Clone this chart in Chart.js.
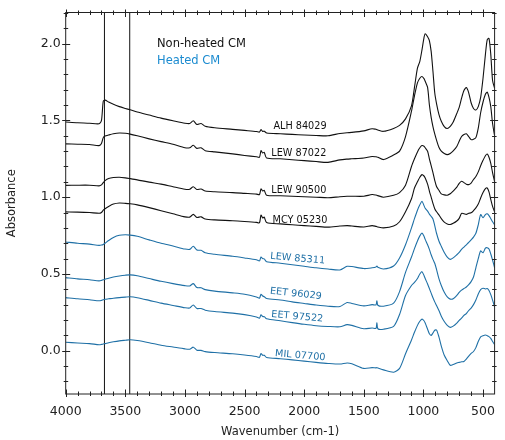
<!DOCTYPE html>
<html>
<head>
<meta charset="utf-8">
<script src="https://cdn.jsdelivr.net/npm/chart.js@4.4.0/dist/chart.umd.min.js"></script>
<style>
  html, body { margin: 0; padding: 0; background: #fff; }
  canvas { display: block; }
</style>
</head>
<body>
<canvas id="chart" width="505" height="440"></canvas>
<script>
// wavenumber grid (cm-1), shared by all spectra
const wavenumbers = [
  4000, 3900, 3800, 3720, 3700, 3685, 3670, 3640, 3600, 3550,
  3500, 3460, 3400, 3300, 3200, 3100, 3000, 2960, 2930, 2900,
  2865, 2830, 2750, 2600, 2500, 2400, 2375, 2362, 2348, 2335,
  2315, 2200, 2100, 2000, 1900, 1800, 1700, 1640, 1600, 1500,
  1430, 1398, 1390, 1382, 1335,
  1250, 1200, 1150, 1100, 1075, 1050, 1030, 1012, 995, 985,
  965, 950, 935, 920, 905, 890, 870, 850, 825, 800,
  775, 750, 720, 700, 680, 660, 640, 620, 600, 580,
  560, 540, 520, 500, 480, 465, 450, 435, 420, 403
];

// non-heated CM
const alh84029 = [
  1.490, 1.485, 1.482, 1.478, 1.500, 1.625, 1.632, 1.620, 1.605, 1.590,
  1.578, 1.569, 1.555, 1.535, 1.515, 1.498, 1.482, 1.480, 1.498, 1.474,
  1.480, 1.462, 1.452, 1.442, 1.435, 1.428, 1.424, 1.440, 1.428, 1.430,
  1.418, 1.413, 1.409, 1.405, 1.402, 1.400, 1.415, 1.420, 1.422, 1.432,
  1.446, 1.442, 1.440, 1.438, 1.429,
  1.448, 1.468, 1.510, 1.595, 1.715, 1.840, 1.885, 1.960, 2.040, 2.065,
  2.045, 2.020, 1.950, 1.820, 1.680, 1.610, 1.540, 1.495, 1.460, 1.447,
  1.462, 1.490, 1.545, 1.585, 1.645, 1.695, 1.714, 1.680, 1.615, 1.578,
  1.568, 1.590, 1.650, 1.775, 1.930, 2.025, 2.035, 1.930, 1.760, 1.710
];
const lew87022 = [
  1.347, 1.345, 1.343, 1.336, 1.350, 1.388, 1.398, 1.405, 1.413, 1.418,
  1.416, 1.411, 1.400, 1.380, 1.362, 1.345, 1.322, 1.322, 1.338, 1.318,
  1.322, 1.303, 1.295, 1.282, 1.272, 1.263, 1.260, 1.303, 1.288, 1.292,
  1.255, 1.250, 1.244, 1.238, 1.232, 1.227, 1.243, 1.248, 1.250, 1.255,
  1.265, 1.263, 1.262, 1.260, 1.245,
  1.275, 1.300, 1.395, 1.560, 1.660, 1.745, 1.775, 1.786, 1.772, 1.755,
  1.715, 1.602, 1.520, 1.460, 1.412, 1.372, 1.325, 1.300, 1.285, 1.277,
  1.285, 1.302, 1.330, 1.365, 1.395, 1.408, 1.413, 1.395, 1.375, 1.378,
  1.388, 1.450, 1.550, 1.620, 1.670, 1.684, 1.650, 1.590, 1.480, 1.400
];
const lew90500 = [
  1.077, 1.078, 1.078, 1.074, 1.080, 1.095, 1.108, 1.122, 1.128, 1.130,
  1.126, 1.121, 1.113, 1.098, 1.085, 1.068, 1.052, 1.052, 1.068, 1.050,
  1.053, 1.040, 1.035, 1.030, 1.025, 1.020, 1.017, 1.054, 1.040, 1.045,
  1.013, 1.009, 1.006, 1.003, 1.000, 0.996, 1.003, 1.006, 1.006, 1.006,
  1.017, 1.014, 1.012, 1.010, 1.000,
  1.012, 1.030, 1.078, 1.200, 1.250, 1.295, 1.322, 1.336, 1.332, 1.322,
  1.299, 1.250, 1.205, 1.160, 1.110, 1.070, 1.045, 1.022, 1.015, 1.013,
  1.022, 1.040, 1.065, 1.090, 1.104, 1.095, 1.085, 1.082, 1.092, 1.115,
  1.135, 1.165, 1.205, 1.240, 1.270, 1.281, 1.260, 1.220, 1.160, 1.100
];
const mcy05230 = [
  0.904, 0.903, 0.900, 0.895, 0.900, 0.915, 0.925, 0.940, 0.955, 0.962,
  0.960, 0.957, 0.950, 0.932, 0.912, 0.892, 0.872, 0.870, 0.888, 0.868,
  0.872, 0.858, 0.852, 0.847, 0.842, 0.836, 0.833, 0.883, 0.865, 0.870,
  0.835, 0.826, 0.820, 0.815, 0.810, 0.805, 0.812, 0.815, 0.812, 0.806,
  0.815, 0.810, 0.808, 0.806, 0.800,
  0.812, 0.840, 0.905, 0.990, 1.060, 1.100, 1.130, 1.147, 1.138, 1.125,
  1.085, 1.040, 1.000, 0.960, 0.925, 0.905, 0.885, 0.860, 0.838, 0.826,
  0.822, 0.830, 0.845, 0.862, 0.895, 0.892, 0.888, 0.895, 0.898, 0.912,
  0.930, 0.955, 0.995, 1.030, 1.055, 1.060, 1.035, 0.985, 0.940, 0.905
];

// heated CM
const lew85311 = [
  0.708, 0.700, 0.694, 0.686, 0.688, 0.692, 0.700, 0.718, 0.738, 0.752,
  0.755, 0.753, 0.745, 0.722, 0.700, 0.682, 0.662, 0.660, 0.680, 0.656,
  0.654, 0.638, 0.628, 0.615, 0.604, 0.592, 0.585, 0.610, 0.600, 0.598,
  0.580, 0.570, 0.560, 0.550, 0.540, 0.532, 0.526, 0.550, 0.548, 0.535,
  0.540, 0.545, 0.552, 0.543, 0.532,
  0.552, 0.604, 0.690, 0.800, 0.860, 0.915, 0.950, 0.974, 0.945, 0.928,
  0.909, 0.890, 0.875, 0.858, 0.815, 0.765, 0.715, 0.680, 0.640, 0.610,
  0.595, 0.605, 0.625, 0.640, 0.660, 0.675, 0.690, 0.705, 0.722, 0.740,
  0.765, 0.820, 0.887, 0.866, 0.887, 0.892, 0.880, 0.860, 0.840, 0.820
];
const eet96029 = [
  0.476, 0.468, 0.462, 0.455, 0.458, 0.462, 0.465, 0.472, 0.480, 0.487,
  0.492, 0.494, 0.488, 0.470, 0.452, 0.437, 0.424, 0.422, 0.437, 0.412,
  0.410, 0.398, 0.388, 0.377, 0.368, 0.350, 0.342, 0.368, 0.356, 0.352,
  0.340, 0.330, 0.318, 0.308, 0.298, 0.290, 0.288, 0.314, 0.308, 0.292,
  0.300, 0.298, 0.325, 0.296, 0.290,
  0.310, 0.385, 0.510, 0.610, 0.665, 0.715, 0.748, 0.766, 0.745, 0.725,
  0.690, 0.660, 0.625, 0.595, 0.570, 0.530, 0.470, 0.425, 0.380, 0.350,
  0.336, 0.338, 0.360, 0.380, 0.395, 0.405, 0.415, 0.430, 0.450, 0.480,
  0.540, 0.600, 0.650, 0.638, 0.668, 0.671, 0.662, 0.630, 0.590, 0.540
];
const eet97522 = [
  0.346, 0.338, 0.332, 0.325, 0.328, 0.332, 0.335, 0.338, 0.342, 0.346,
  0.349, 0.351, 0.345, 0.328, 0.310, 0.295, 0.280, 0.278, 0.298, 0.275,
  0.275, 0.264, 0.255, 0.245, 0.235, 0.220, 0.212, 0.234, 0.222, 0.222,
  0.208, 0.195, 0.183, 0.172, 0.163, 0.158, 0.156, 0.170, 0.165, 0.143,
  0.148, 0.145, 0.182, 0.143, 0.140,
  0.158, 0.236, 0.360, 0.425, 0.445, 0.470, 0.500, 0.515, 0.490, 0.470,
  0.435, 0.405, 0.375, 0.345, 0.318, 0.295, 0.262, 0.225, 0.190, 0.165,
  0.152, 0.160, 0.180, 0.198, 0.212, 0.230, 0.242, 0.262, 0.278, 0.300,
  0.330, 0.370, 0.398, 0.407, 0.402, 0.405, 0.392, 0.365, 0.330, 0.285
];
const mil07700 = [
  0.055, 0.050, 0.046, 0.039, 0.041, 0.044, 0.046, 0.052, 0.058, 0.064,
  0.068, 0.071, 0.066, 0.052, 0.036, 0.024, 0.012, 0.010, 0.023, 0.003,
  0.002, -0.006, -0.012, -0.020, -0.028, -0.038, -0.043, -0.018, -0.030, -0.030,
  -0.044, -0.052, -0.060, -0.068, -0.076, -0.083, -0.087, -0.080, -0.085, -0.115,
  -0.110, -0.112, -0.110, -0.113, -0.125,
  -0.140, -0.115, -0.020, 0.070, 0.120, 0.165, 0.192, 0.206, 0.195, 0.180,
  0.140, 0.110, 0.100, 0.115, 0.133, 0.135, 0.090, 0.030, -0.030, -0.065,
  -0.095, -0.090, -0.080, -0.076, -0.072, -0.070, -0.055, -0.035, -0.018, -0.005,
  0.020, 0.060, 0.090, 0.098, 0.102, 0.098, 0.092, 0.080, 0.060, 0.040
];

const sampleNames = ['ALH 84029', 'LEW 87022', 'LEW 90500', 'MCY 05230',
                     'LEW 85311', 'EET 96029', 'EET 97522', 'MIL 07700'];
const spectra = [alh84029, lew87022, lew90500, mcy05230,
                 lew85311, eet96029, eet97522, mil07700];
const heated = [false, false, false, false, true, true, true, true];

const xTicks = [4000, 3500, 3000, 2500, 2000, 1500, 1000, 500];
const yTicks = [0.0, 0.5, 1.0, 1.5, 2.0];
const markerLines = [3675, 3463];

const X_MIN = 403, X_MAX = 4000;
const Y_MIN = -0.282, Y_MAX = 2.203;

const BLACK = '#111111';
const BLUE = '#1f70a6';
const LEGEND_BLUE = '#1b8bd0';
const FONT = 'DejaVu Sans';

// where each sample name sits (wavenumber, absorbance, rotation in degrees)
const labelSpots = [
  [2035, 1.461, 0], [2045, 1.286, 0], [2045, 1.045, 0], [2035, 0.849, 0],
  [2055, 0.599, 5], [2070, 0.370, 6], [2058, 0.221, 5], [2033, -0.032, 5]
];

const datasets = spectra.map((vals, i) => ({
  label: sampleNames[i],
  data: wavenumbers.map((w, j) => ({ x: w, y: vals[j] })),
  borderColor: heated[i] ? BLUE : BLACK,
  borderWidth: 1.1,
  pointRadius: 0,
  tension: 0.25
}));

markerLines.forEach(w => {
  datasets.push({
    data: [{ x: w, y: Y_MIN }, { x: w, y: Y_MAX }],
    borderColor: BLACK,
    borderWidth: 1,
    pointRadius: 0
  });
});

const framePlugin = {
  id: 'frame',
  afterDraw(chart) {
    const { ctx, chartArea: a, scales: { x, y } } = chart;
    ctx.save();
    ctx.strokeStyle = '#222';
    ctx.lineWidth = 1;
    ctx.strokeRect(a.left, a.top, a.right - a.left, a.bottom - a.top);

    ctx.beginPath();
    for (let v = Math.ceil(X_MIN / 100) * 100; v <= X_MAX; v += 100) {
      const px = Math.round(x.getPixelForValue(v)) + 0.5;
      const major = v % 500 === 0;
      const tin = major ? 4.5 : 2.5, tout = major ? 3 : 2;
      ctx.moveTo(px, a.bottom + tout); ctx.lineTo(px, a.bottom - tin);
      ctx.moveTo(px, a.top - tout); ctx.lineTo(px, a.top + tin);
    }
    for (let k = Math.ceil(Y_MIN * 10); k <= Math.floor(Y_MAX * 10); k++) {
      const py = Math.round(y.getPixelForValue(k / 10)) + 0.5;
      const major = k % 5 === 0;
      const tin = major ? 4.5 : 2.5, tout = major ? 3.5 : 2;
      ctx.moveTo(a.left - tout, py); ctx.lineTo(a.left + tin, py);
      ctx.moveTo(a.right + tout, py); ctx.lineTo(a.right - tin, py);
    }
    ctx.stroke();

    // legend text
    ctx.font = '11.5px "' + FONT + '"';
    ctx.textBaseline = 'middle';
    ctx.textAlign = 'left';
    ctx.fillStyle = BLACK;
    ctx.fillText('Non-heated CM', 157, 44.5);
    ctx.fillStyle = LEGEND_BLUE;
    ctx.fillText('Heated CM', 157, 61);

    // sample names on the curves
    ctx.font = '9.7px "' + FONT + '"';
    ctx.textAlign = 'center';
    labelSpots.forEach((s, i) => {
      ctx.save();
      ctx.translate(x.getPixelForValue(s[0]), y.getPixelForValue(s[1]));
      ctx.rotate(s[2] * Math.PI / 180);
      ctx.fillStyle = heated[i] ? BLUE : BLACK;
      ctx.fillText(sampleNames[i], 0, 0);
      ctx.restore();
    });
    ctx.restore();
  }
};

new Chart(document.getElementById('chart'), {
  type: 'line',
  data: { datasets },
  options: {
    responsive: false,
    animation: false,
    devicePixelRatio: 1,
    layout: { padding: { top: 10.7, right: 1.5, left: 0, bottom: 0 } },
    plugins: { legend: { display: false }, tooltip: { enabled: false } },
    scales: {
      x: {
        type: 'linear', reverse: true, min: X_MIN, max: X_MAX,
        afterBuildTicks: s => { s.ticks = xTicks.map(v => ({ value: v })); },
        afterFit: s => { s.height = 46; },
        grid: { display: false, drawTicks: false },
        border: { display: false },
        ticks: { font: { family: FONT, size: 12.5 }, color: '#222', padding: 10,
                 maxRotation: 0, autoSkip: false, callback: v => String(v) },
        title: { display: true, text: 'Wavenumber (cm-1)', color: '#222',
                 font: { family: FONT, size: 11.5 }, padding: { top: 0, bottom: 1 } }
      },
      y: {
        type: 'linear', min: Y_MIN, max: Y_MAX,
        afterBuildTicks: s => { s.ticks = yTicks.map(v => ({ value: v })); },
        afterFit: s => { s.width = 65.7; },
        grid: { display: false, drawTicks: false },
        border: { display: false },
        ticks: { font: { family: FONT, size: 12.5 }, color: '#222', padding: 5,
                 callback: v => v.toFixed(1) },
        title: { display: true, text: 'Absorbance', color: '#222',
                 font: { family: FONT, size: 11.5 }, padding: { top: 5, bottom: 0 } }
      }
    }
  },
  plugins: [framePlugin]
});
</script>
</body>
</html>
